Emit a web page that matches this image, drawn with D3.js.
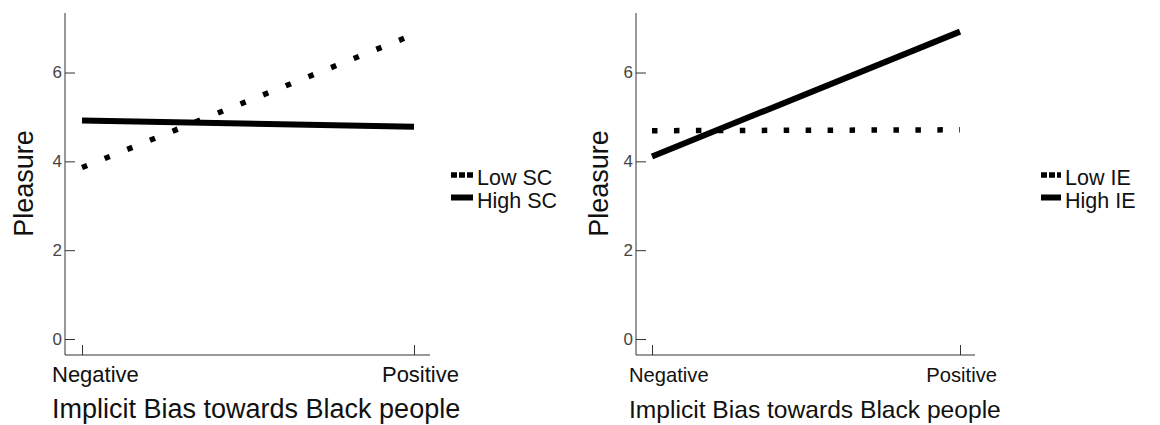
<!DOCTYPE html>
<html>
<head>
<meta charset="utf-8">
<script src="https://cdn.jsdelivr.net/npm/d3@7/dist/d3.min.js"></script>
<style>
  html, body { margin: 0; padding: 0; background: #fff; }
  svg { display: block; font-family: "Liberation Sans", Arial, Helvetica, sans-serif; }
</style>
</head>
<body>
<svg id="chart" width="1160" height="425"></svg>
<script>
// ---- data ----
const categories = ["Negative", "Positive"];
const yTicks = [0, 2, 4, 6];
const yTitle = "Pleasure";
const xTitle = "Implicit Bias towards Black people";

const leftSeriesNames = ["Low SC", "High SC"];
const lowSC  = [3.86, 6.86];
const highSC = [4.92, 4.78];

const rightSeriesNames = ["Low IE", "High IE"];
const lowIE  = [4.69, 4.71];
const highIE = [4.11, 6.92];

// ---- layout per panel ----
const panels = [
  { names: leftSeriesNames, series: [lowSC, highSC],
    axisX0: 65, axisX1: 430, tick0: 82, tick1: 414,
    yTitleX: 33, dash: "5.5,18.9",
    tickFont: 22, titleFont: 27, negDx: -30, posDx: 45, titleX: 52,
    legX0: 451, legX1: 473, legTextX: 477 },
  { names: rightSeriesNames, series: [lowIE, highIE],
    axisX0: 636, axisX1: 975, tick0: 652, tick1: 960,
    yTitleX: 608, dash: "5.5,16.45",
    tickFont: 20.2, titleFont: 24.6, negDx: -23, posDx: 37, titleX: 629,
    legX0: 1041, legX1: 1061, legTextX: 1065 }
];

const svg = d3.select("#chart");
const y = d3.scaleLinear().domain([-0.36, 7.34]).range([355, 13]);
const axisColor = "#333";

panels.forEach(p => {
  const g = svg.append("g");
  const x = d3.scalePoint().domain(categories).range([p.tick0, p.tick1]);

  // y axis
  const ya = g.append("g").attr("transform", `translate(${p.axisX0},0)`)
    .call(d3.axisLeft(y).tickValues(yTicks).tickSize(-10).tickPadding(3).tickFormat(d3.format("d")));
  ya.select(".domain").remove();
  ya.selectAll(".tick line").attr("stroke", axisColor);
  ya.selectAll(".tick text").attr("fill", "#444").style("font-size", "17px")
    .style("font-family", "Liberation Sans, Arial, sans-serif");
  g.append("line").attr("x1", p.axisX0).attr("x2", p.axisX0)
    .attr("y1", y.range()[1]).attr("y2", y.range()[0]).attr("stroke", axisColor).attr("stroke-width", 1);

  // x axis
  const xa = g.append("g").attr("transform", `translate(0,${y.range()[0]})`)
    .call(d3.axisBottom(x).tickSize(-10).tickFormat(""));
  xa.select(".domain").remove();
  xa.selectAll(".tick line").attr("stroke", axisColor);
  g.append("line").attr("x1", p.axisX0).attr("x2", p.axisX1)
    .attr("y1", y.range()[0]).attr("y2", y.range()[0]).attr("stroke", axisColor).attr("stroke-width", 1);

  // x tick labels
  g.append("text").attr("x", x(categories[0]) + p.negDx).attr("y", 382)
    .attr("text-anchor", "start").style("font-size", p.tickFont + "px").attr("fill", "#111")
    .text(categories[0]);
  g.append("text").attr("x", x(categories[1]) + p.posDx).attr("y", 382)
    .attr("text-anchor", "end").style("font-size", p.tickFont + "px").attr("fill", "#111")
    .text(categories[1]);

  // titles
  g.append("text").attr("x", p.titleX).attr("y", 418)
    .style("font-size", p.titleFont + "px").attr("fill", "#111").text(xTitle);
  g.append("text").attr("transform", `translate(${p.yTitleX},183.5) rotate(-90)`)
    .attr("text-anchor", "middle").style("font-size", "27px").attr("fill", "#111").text(yTitle);

  // lines
  const line = d3.line().x((d, i) => x(categories[i])).y(d => y(d));
  g.append("path").datum(p.series[0]).attr("d", line)
    .attr("fill", "none").attr("stroke", "#000").attr("stroke-width", 5.5)
    .attr("stroke-dasharray", p.dash);
  g.append("path").datum(p.series[1]).attr("d", line)
    .attr("fill", "none").attr("stroke", "#000").attr("stroke-width", 6);

  // legend
  const legY = [175, 197.5];
  p.names.forEach((name, i) => {
    g.append("line").attr("x1", p.legX0).attr("x2", p.legX1)
      .attr("y1", legY[i]).attr("y2", legY[i])
      .attr("stroke", "#000").attr("stroke-width", i === 0 ? 5.5 : 6)
      .attr("stroke-dasharray", i === 0 ? "6,2" : null);
    g.append("text").attr("x", p.legTextX).attr("y", legY[i] + 10)
      .style("font-size", "21.5px").attr("fill", "#111").text(name);
  });
});
</script>
</body>
</html>
